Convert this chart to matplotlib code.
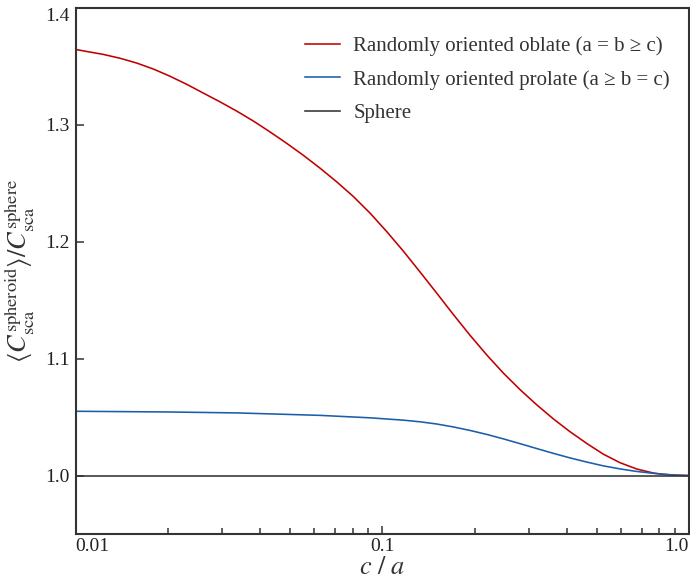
import matplotlib
matplotlib.use("Agg")
import matplotlib.pyplot as plt
from matplotlib.ticker import FixedLocator, FixedFormatter, LogLocator, NullFormatter

plt.rcParams['font.family'] = ['Liberation Serif', 'DejaVu Serif']
plt.rcParams['mathtext.fontset'] = 'stix'

# data
oblate_ca = [0.01003, 0.01087, 0.01231, 0.01396, 0.01582, 0.01792, 0.02032, 0.02303,
             0.02609, 0.02957, 0.03352, 0.03797, 0.04303, 0.04879, 0.05526, 0.06263,
             0.07098, 0.0804, 0.0912, 0.1033, 0.1171, 0.1327, 0.1505, 0.1704, 0.1932,
             0.2190, 0.2480, 0.2812, 0.3188, 0.3610, 0.4093, 0.4650, 0.5255, 0.5957,
             0.6753, 0.7666, 0.8245, 0.9, 1.0]
oblate_val = [1.3645, 1.3628, 1.3603, 1.3570, 1.3529, 1.3478, 1.3416, 1.3347,
              1.3272, 1.3197, 1.3118, 1.3033, 1.2940, 1.2842, 1.2740, 1.2630,
              1.2513, 1.2388, 1.2245, 1.2088, 1.1920, 1.1742, 1.1560, 1.1378, 1.1200,
              1.1032, 1.0877, 1.0735, 1.0605, 1.0485, 1.0375, 1.0273, 1.0183, 1.0110,
              1.0056, 1.0021, 1.0010, 1.0003, 1.0]
prolate_ca = [0.01003, 0.02, 0.03352, 0.0626, 0.0912, 0.1171, 0.1327, 0.1505, 0.1704,
              0.1932, 0.2190, 0.2480, 0.2812, 0.3188, 0.3610, 0.4093, 0.4650, 0.5255,
              0.5957, 0.6753, 0.7666, 0.8245, 0.9, 1.0]
prolate_val = [1.0550, 1.0544, 1.0536, 1.0515, 1.0494, 1.0474, 1.0460, 1.0441, 1.0416,
               1.0386, 1.0352, 1.0314, 1.0273, 1.0231, 1.0190, 1.0151, 1.0115, 1.0083,
               1.0057, 1.0035, 1.0019, 1.0012, 1.0004, 1.0]
sphere_ca = [0.01, 1.0]
sphere_val = [1.0, 1.0]

x_ticks = [0.01, 0.1, 1.0]
x_ticklabels = ['0.01', '0.1', '1.0']
y_ticks = [1.0, 1.1, 1.2, 1.3, 1.4]
y_ticklabels = ['1.0', '1.1', '1.2', '1.3', '1.4']

labels = ['Randomly oriented oblate (a = b \u2265 c)',
          'Randomly oriented prolate (a \u2265 b = c)',
          'Sphere']

fig = plt.figure(figsize=(6.9, 5.8), dpi=100)
ax = fig.add_axes([0.1096, 0.0793, 0.889, 0.9069])

ax.plot(oblate_ca, oblate_val, color='#c00000', lw=1.15, label=labels[0])
ax.plot(prolate_ca, prolate_val, color='#1a5ea8', lw=1.15, label=labels[1])
ax.plot(sphere_ca, sphere_val, color='#333333', lw=1.15, label=labels[2])

ax.set_xscale('log')
ax.set_xlim(0.01, 1.0)
ax.set_ylim(0.95, 1.4)

ax.xaxis.set_major_locator(FixedLocator(x_ticks))
ax.xaxis.set_major_formatter(FixedFormatter(x_ticklabels))
ax.xaxis.set_minor_locator(LogLocator(base=10, subs=range(2, 10)))
ax.xaxis.set_minor_formatter(NullFormatter())
ax.yaxis.set_major_locator(FixedLocator(y_ticks))
ax.yaxis.set_major_formatter(FixedFormatter(y_ticklabels))

ax.tick_params(which='both', direction='in', top=False, right=False,
               colors='#333333', labelcolor='#222222', labelsize=14, width=1.1)
ax.tick_params(which='major', length=6)
ax.tick_params(axis='x', which='major', pad=3)
ax.tick_params(axis='y', which='major', pad=4)
ax.tick_params(which='minor', length=4)

for s in ax.spines.values():
    s.set_color('#333333')
    s.set_linewidth(1.5)

ax.set_xlabel(r'$c\ /\ a$', fontsize=19, color='#333333', va='top')
ax.xaxis.set_label_coords(0.5, -0.043)
ax.set_ylabel(r'$\langle C_{\rm sca}^{\rm spheroid}\rangle / C_{\rm sca}^{\rm sphere}$',
              fontsize=19, color='#333333', labelpad=6)

fig.canvas.draw()
xl = ax.get_xticklabels()
xl[0].set_horizontalalignment('left')
xl[-1].set_horizontalalignment('right')
yl = ax.get_yticklabels()
yl[-1].set_verticalalignment('top')

leg = ax.legend(loc='upper right', bbox_to_anchor=(0.969, 0.946), frameon=False,
                fontsize=15, handlelength=1.7, handletextpad=0.62,
                labelspacing=0.66, borderaxespad=0, borderpad=0)
for t in leg.get_texts():
    t.set_color('#333333')

fig.savefig('out.png', dpi=100)
